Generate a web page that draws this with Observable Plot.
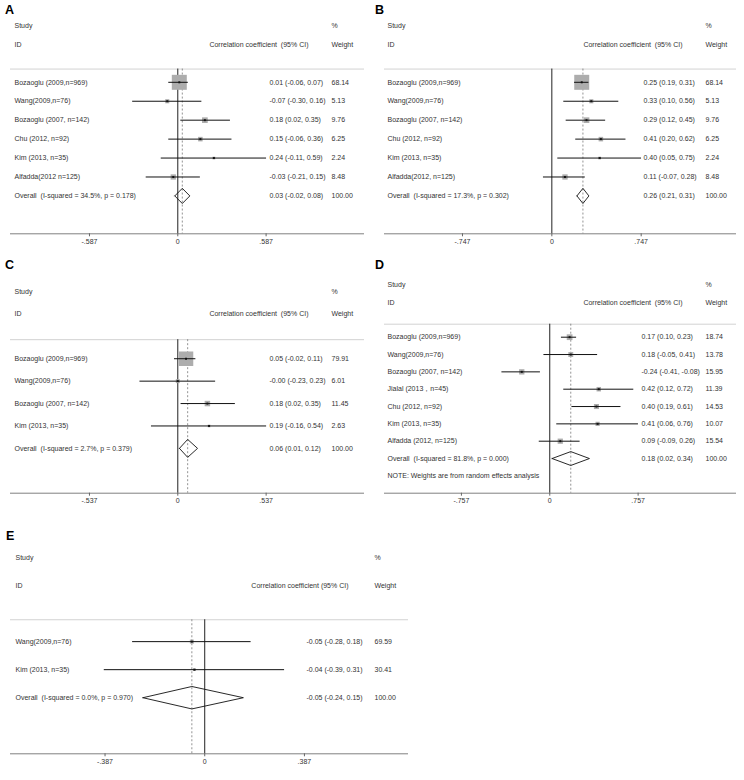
<!DOCTYPE html>
<html><head><meta charset="utf-8">
<script src="https://cdn.jsdelivr.net/npm/d3@7"></script>
<script src="https://cdn.jsdelivr.net/npm/@observablehq/plot@0.6"></script>
<style>
body{margin:0;background:#fff;}
#root{position:relative;width:744px;height:780px;overflow:hidden;background:#fff;font-family:"Liberation Sans",Arial,sans-serif;}
.panel{position:absolute;}
.letter{position:absolute;font-weight:bold;font-size:12.5px;line-height:1;color:#000;font-family:"Liberation Sans",Arial,sans-serif;}
</style></head><body><div id="root"></div>
<script>
// ---------- Panel A ----------
const studiesA = ["Bozaoglu (2009,n=969)", "Wang(2009,n=76)", "Bozaoglu (2007, n=142)", "Chu (2012, n=92)", "Kim (2013, n=35)", "Alfadda(2012 n=125)"];
const estA = [0.01, -0.07, 0.18, 0.15, 0.24, -0.03];
const lowA = [-0.06, -0.30, 0.02, -0.06, -0.11, -0.21];
const highA = [0.07, 0.16, 0.35, 0.36, 0.59, 0.15];
const weightA = [68.14, 5.13, 9.76, 6.25, 2.24, 8.48];
const overallA = [0.03, -0.02, 0.08];
const hetA = "I-squared = 34.5%, p = 0.178";
const ticksA = [-0.587, 0, 0.587];
const tickLabelsA = ["-.587", "0", ".587"];

// ---------- Panel B ----------
const studiesB = ["Bozaoglu (2009,n=969)", "Wang(2009,n=76)", "Bozaoglu (2007, n=142)", "Chu (2012, n=92)", "Kim (2013, n=35)", "Alfadda(2012, n=125)"];
const estB = [0.25, 0.33, 0.29, 0.41, 0.40, 0.11];
const lowB = [0.19, 0.10, 0.12, 0.20, 0.05, -0.07];
const highB = [0.31, 0.56, 0.45, 0.62, 0.75, 0.28];
const weightB = [68.14, 5.13, 9.76, 6.25, 2.24, 8.48];
const overallB = [0.26, 0.21, 0.31];
const hetB = "I-squared = 17.3%, p = 0.302";
const ticksB = [-0.747, 0, 0.747];
const tickLabelsB = ["-.747", "0", ".747"];

// ---------- Panel C ----------
const studiesC = ["Bozaoglu (2009,n=969)", "Wang(2009,n=76)", "Bozaoglu (2007, n=142)", "Kim (2013, n=35)"];
const estC = [0.05, -0.00, 0.18, 0.19];
const lowC = [-0.02, -0.23, 0.02, -0.16];
const highC = [0.11, 0.23, 0.35, 0.54];
const weightC = [79.91, 6.01, 11.45, 2.63];
const overallC = [0.06, 0.01, 0.12];
const hetC = "I-squared = 2.7%, p = 0.379";
const ticksC = [-0.537, 0, 0.537];
const tickLabelsC = ["-.537", "0", ".537"];

// ---------- Panel D ----------
const studiesD = ["Bozaoglu (2009,n=969)", "Wang(2009,n=76)", "Bozaoglu (2007, n=142)", "Jialal (2013，n=45)", "Chu (2012, n=92)", "Kim (2013, n=35)", "Alfadda (2012, n=125)"];
const estD = [0.17, 0.18, -0.24, 0.42, 0.40, 0.41, 0.09];
const lowD = [0.10, -0.05, -0.41, 0.12, 0.19, 0.06, -0.09];
const highD = [0.23, 0.41, -0.08, 0.72, 0.61, 0.76, 0.26];
const weightD = [18.74, 13.78, 15.95, 11.39, 14.53, 10.07, 15.54];
const overallD = [0.18, 0.02, 0.34];
const hetD = "I-squared = 81.8%, p = 0.000";
const noteD = "NOTE: Weights are from random effects analysis";
const ticksD = [-0.757, 0, 0.757];
const tickLabelsD = ["-.757", "0", ".757"];

// ---------- Panel E ----------
const studiesE = ["Wang(2009,n=76)", "Kim (2013, n=35)"];
const estE = [-0.05, -0.04];
const lowE = [-0.28, -0.39];
const highE = [0.18, 0.31];
const weightE = [69.59, 30.41];
const overallE = [-0.05, -0.24, 0.15];
const hetE = "I-squared = 0.0%, p = 0.970";
const ticksE = [-0.387, 0, 0.387];
const tickLabelsE = ["-.387", "0", ".387"];

const panelLetters = ["A", "B", "C", "D", "E"];

// ---------- drawing ----------
const FONT = "Liberation Sans, Arial, Helvetica, sans-serif";
const fmt = v => (Object.is(v, -0) ? "-" : "") + v.toFixed(2);

function forest(d, L) {
  const n = d.studies.length;
  const rows = d.studies.map((label, i) => ({row: i, label, est: d.est[i], lo: d.low[i], hi: d.high[i], w: d.weight[i]}));
  const ov = {row: n, label: "Overall\u00a0 (" + d.het + ")", est: d.overall[0], lo: d.overall[1], hi: d.overall[2], w: 100};
  const all = [...rows, ov];
  const axisRow = n + 2;
  const sepRow = L.sepRow;
  const h = 0.4;
  const diamond = [[ov.lo, n], [ov.est, n - h], [ov.hi, n], [ov.est, n + h], [ov.lo, n]];
  const txt = {fontSize: 7, fill: "#333", textAnchor: "start", frameAnchor: "left", fontFamily: FONT};
  const marks = [
    Plot.ruleY([sepRow], {stroke: "#d2d2d2", strokeWidth: 1}),
    Plot.ruleY([axisRow], {stroke: "#808080", strokeWidth: 1}),
    Plot.ruleX([0], {y1: sepRow, y2: axisRow, stroke: "#222", strokeWidth: 1}),
    Plot.ruleX([ov.est], {y1: sepRow, y2: axisRow, stroke: "#777", strokeWidth: 0.8, strokeDasharray: "2,2"}),
    Plot.dot(rows, {x: "est", y: "row", r: "w", symbol: "square", fill: "#adadad", stroke: null}),
    Plot.ruleY(rows, {y: "row", x1: "lo", x2: "hi", stroke: "#111", strokeWidth: 1}),
    Plot.dot(rows, {x: "est", y: "row", r: 1.1, symbol: "square", fill: "#111", stroke: null}),
    Plot.line(diamond, {stroke: "#111", strokeWidth: 0.9}),
    Plot.axisX({ticks: d.ticks, tickFormat: v => d.tickLabels[d.ticks.indexOf(v)], tickSize: 3, tickPadding: 2, fontSize: 7, stroke: "#666", fill: "#333", fontFamily: FONT}),
    Plot.text([{row: -3, t: "Study"}, {row: -2, t: "ID"}], {...txt, y: "row", text: "t", dx: L.cLabel}),
    Plot.text([{row: -3, t: "%"}, {row: -2, t: "Weight"}], {...txt, y: "row", text: "t", dx: L.cW}),
    Plot.text([{row: -2, t: L.hdr}], {...txt, y: "row", text: "t", dx: L.cHdr, textAnchor: "end"}),
    Plot.text(all, {...txt, y: "row", text: "label", dx: L.cLabel}),
    Plot.text(all, {...txt, y: "row", text: r => fmt(r.est) + " (" + fmt(r.lo) + ", " + fmt(r.hi) + ")", dx: L.cCI}),
    Plot.text(all, {...txt, y: "row", text: r => r.w.toFixed(2), dx: L.cW})
  ];
  if (d.note) marks.push(Plot.text([{row: n + 1, t: d.note}], {...txt, y: "row", text: "t", dx: L.cLabel}));
  const svg = Plot.plot({
    width: L.width, height: L.height,
    marginLeft: L.mL, marginRight: L.mR, marginTop: L.mT, marginBottom: L.mB,
    style: {fontFamily: FONT, fontSize: "7px", color: "#333", background: "transparent"},
    x: {domain: L.xDomain},
    y: {domain: [-3, axisRow], range: [L.mT, L.height - L.mB], axis: null},
    r: {type: "sqrt", domain: [0, 100], range: [0, L.boxR]},
    marks
  });
  const wrap = document.createElement("div");
  wrap.className = "panel";
  wrap.style.left = L.left + "px";
  wrap.style.top = L.top + "px";
  wrap.appendChild(svg);
  return wrap;
}

const colsStd = {cLabel: 4, cHdr: 298, cCI: 259, cW: 321, hdr: "Correlation coefficient\u00a0 (95% CI)"};
const panels = [
  [{studies: studiesA, est: estA, low: lowA, high: highA, weight: weightA, overall: overallA, het: hetA, ticks: ticksA, tickLabels: tickLabelsA},
   {...colsStd, left: 0, top: 0, width: 372, height: 255, mL: 10, mR: 8, mT: 25, mB: 21.7, sepRow: -0.7, xDomain: [-1.112, 1.241], boxR: 10.25}],
  [{studies: studiesB, est: estB, low: lowB, high: highB, weight: weightB, overall: overallB, het: hetB, ticks: ticksB, tickLabels: tickLabelsB},
   {...colsStd, cLabel: 3, left: 372, top: 0, width: 372, height: 255, mL: 12, mR: 8, mT: 25, mB: 21.7, sepRow: -0.7, xDomain: [-1.399, 1.544], boxR: 10.25}],
  [{studies: studiesC, est: estC, low: lowC, high: highC, weight: weightC, overall: overallC, het: hetC, ticks: ticksC, tickLabels: tickLabelsC},
   {...colsStd, left: 0, top: 258, width: 372, height: 257, mL: 10, mR: 8, mT: 33, mB: 22.3, sepRow: -0.85, xDomain: [-1.017, 1.135], boxR: 9.15}],
  [{studies: studiesD, est: estD, low: lowD, high: highD, weight: weightD, overall: overallD, het: hetD, note: noteD, ticks: ticksD, tickLabels: tickLabelsD},
   {...colsStd, cLabel: 3, cCI: 257, left: 372, top: 258, width: 372, height: 257, mL: 12, mR: 8, mT: 26.7, mB: 22.3, sepRow: -0.75, xDomain: [-1.416, 1.600], boxR: 7.5}],
  [{studies: studiesE, est: estE, low: lowE, high: highE, weight: weightE, overall: overallE, het: hetE, ticks: ticksE, tickLabels: tickLabelsE},
   {cLabel: 5, cHdr: 338, cCI: 296, cW: 364, hdr: "Correlation coefficient (95% CI)", left: 0, top: 525, width: 420, height: 255, mL: 10, mR: 12, mT: 32, mB: 26.7, sepRow: -0.78, xDomain: [-0.754, 0.791], boxR: 2.7}]
];

const root = document.getElementById("root");
for (const [d, L] of panels) root.appendChild(forest(d, L));

const letterPos = [[5, 4], [375, 4], [5, 259], [375, 259], [6, 530]];
panelLetters.forEach((t, i) => {
  const el = document.createElement("div");
  el.className = "letter";
  el.textContent = t;
  el.style.left = letterPos[i][0] + "px";
  el.style.top = letterPos[i][1] + "px";
  root.appendChild(el);
});
</script></body></html>
